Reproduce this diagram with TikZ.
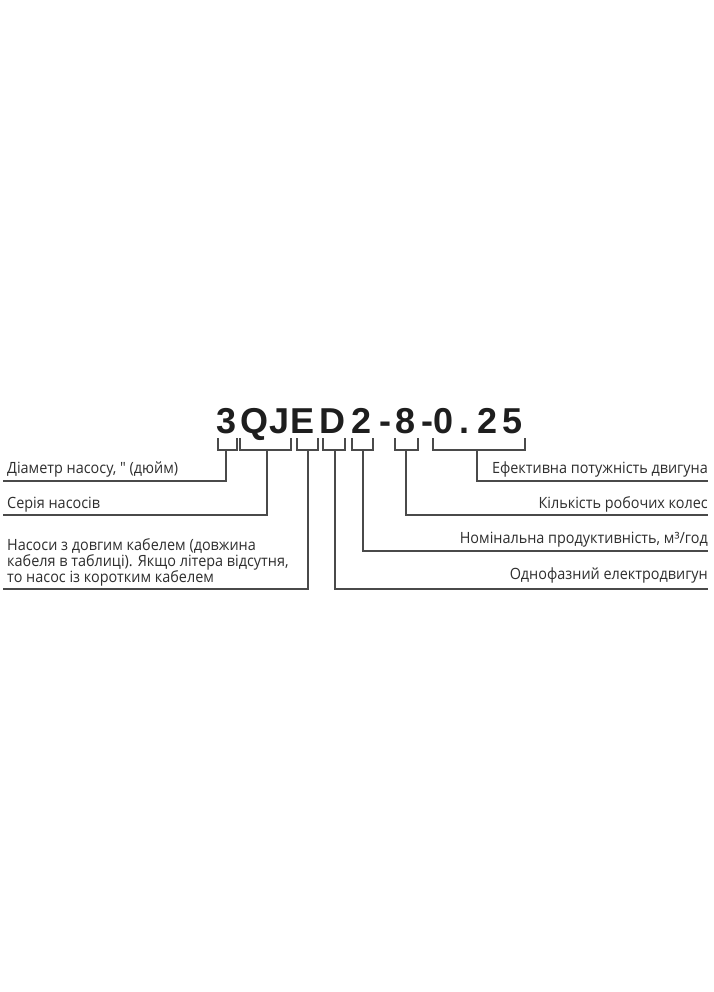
\documentclass[tikz,border=0pt]{standalone}
\usepackage{fontspec}
\setmainfont{Open Sans}
\newfontfamily\lblfont{Open Sans}[FakeStretch=0.93]
\newfontfamily\codefont{Liberation Sans}
\definecolor{labelgray}{HTML}{2E2E2E}
\definecolor{linegray}{HTML}{4A4A4A}
\definecolor{codeblack}{HTML}{1E1E1E}
\begin{document}
\begin{tikzpicture}[x=1pt,y=-1pt,
  lbl/.style={font=\lblfont\fontsize{15.5}{16}\selectfont, text=labelgray, inner sep=0pt},
  chr/.style={font=\codefont\bfseries\fontsize{36}{36}\selectfont, text=codeblack, inner sep=0pt, anchor=base},
  conn/.style={draw=linegray, line width=1.4pt}]
\useasboundingbox[fill=white] (0,0) rectangle (713,992);
% code characters
\node[chr] (c1) at (227,433) {3};
\node[chr] (c2) at (254,433) {Q};
\node[chr] (c3) at (280,433) {J};
\node[chr] (c4) at (303,433) {E};
\node[chr] (c5) at (332.5,433) {D};
\node[chr] (c6) at (362,433) {2};
\node[chr] (c7) at (385,433) {-};
\node[chr] (c8) at (406,433) {8};
\node[chr] (c9) at (427.5,433) {-};
\node[chr] (c10) at (443.5,433) {0};
\node[chr] (c11) at (464.5,433) {.};
\node[chr] (c12) at (487.5,433) {2};
\node[chr] (c13) at (513,433) {5};
% bracket corners (a = left top, b = right top, s = stem top)
\coordinate (b1a) at (218,438); \coordinate (b1b) at (237,438); \coordinate (s1) at (226,450);
\coordinate (b2a) at (240,438); \coordinate (b2b) at (291,438); \coordinate (s2) at (267,450);
\coordinate (b3a) at (297,438); \coordinate (b3b) at (318,438); \coordinate (s3) at (308,450);
\coordinate (b4a) at (323,438); \coordinate (b4b) at (345,438); \coordinate (s4) at (335,450);
\coordinate (b5a) at (352,438); \coordinate (b5b) at (373,438); \coordinate (s5) at (363,450);
\coordinate (b6a) at (395,438); \coordinate (b6b) at (418,438); \coordinate (s6) at (406,450);
\coordinate (b7a) at (433,438); \coordinate (b7b) at (525,438); \coordinate (s7) at (477,450);
% line ends
\coordinate (e1) at (3,481);
\coordinate (e2) at (3,515);
\coordinate (e3) at (3,589);
\coordinate (e4) at (708,589);
\coordinate (e5) at (708,551);
\coordinate (e6) at (708,515);
\coordinate (e7) at (708,481);
% brackets
\foreach \i in {1,...,7}{
  \draw[conn] (b\i a) |- (s\i) -| (b\i b);
  \draw[conn] (s\i) |- (e\i);
}
% left labels
\node[lbl, anchor=base west] (l1) at (7,473) {Діаметр насосу, ″ (дюйм)};
\node[lbl, anchor=base west] (l2) at (7,508) {Серія насосів};
\node[lbl, anchor=base west] (l3a) at (7,550) {Насоси з довгим кабелем (довжина};
\node[lbl, anchor=base west] (l3b) at (7,566) {кабеля в таблиці). Якщо літера відсутня,};
\node[lbl, anchor=base west] (l3c) at (7,582) {то насос із коротким кабелем};
% right labels
\node[lbl, anchor=base east] (r1) at (708,473) {Ефективна потужність двигуна};
\node[lbl, anchor=base east] (r2) at (708,508) {Кількість робочих колес};
\node[lbl, anchor=base east] (r3) at (708,543.5) {Номінальна продуктивність, м³/год};
\node[lbl, anchor=base east] (r4) at (708,579.5) {Однофазний електродвигун};
\end{tikzpicture}
\end{document}
